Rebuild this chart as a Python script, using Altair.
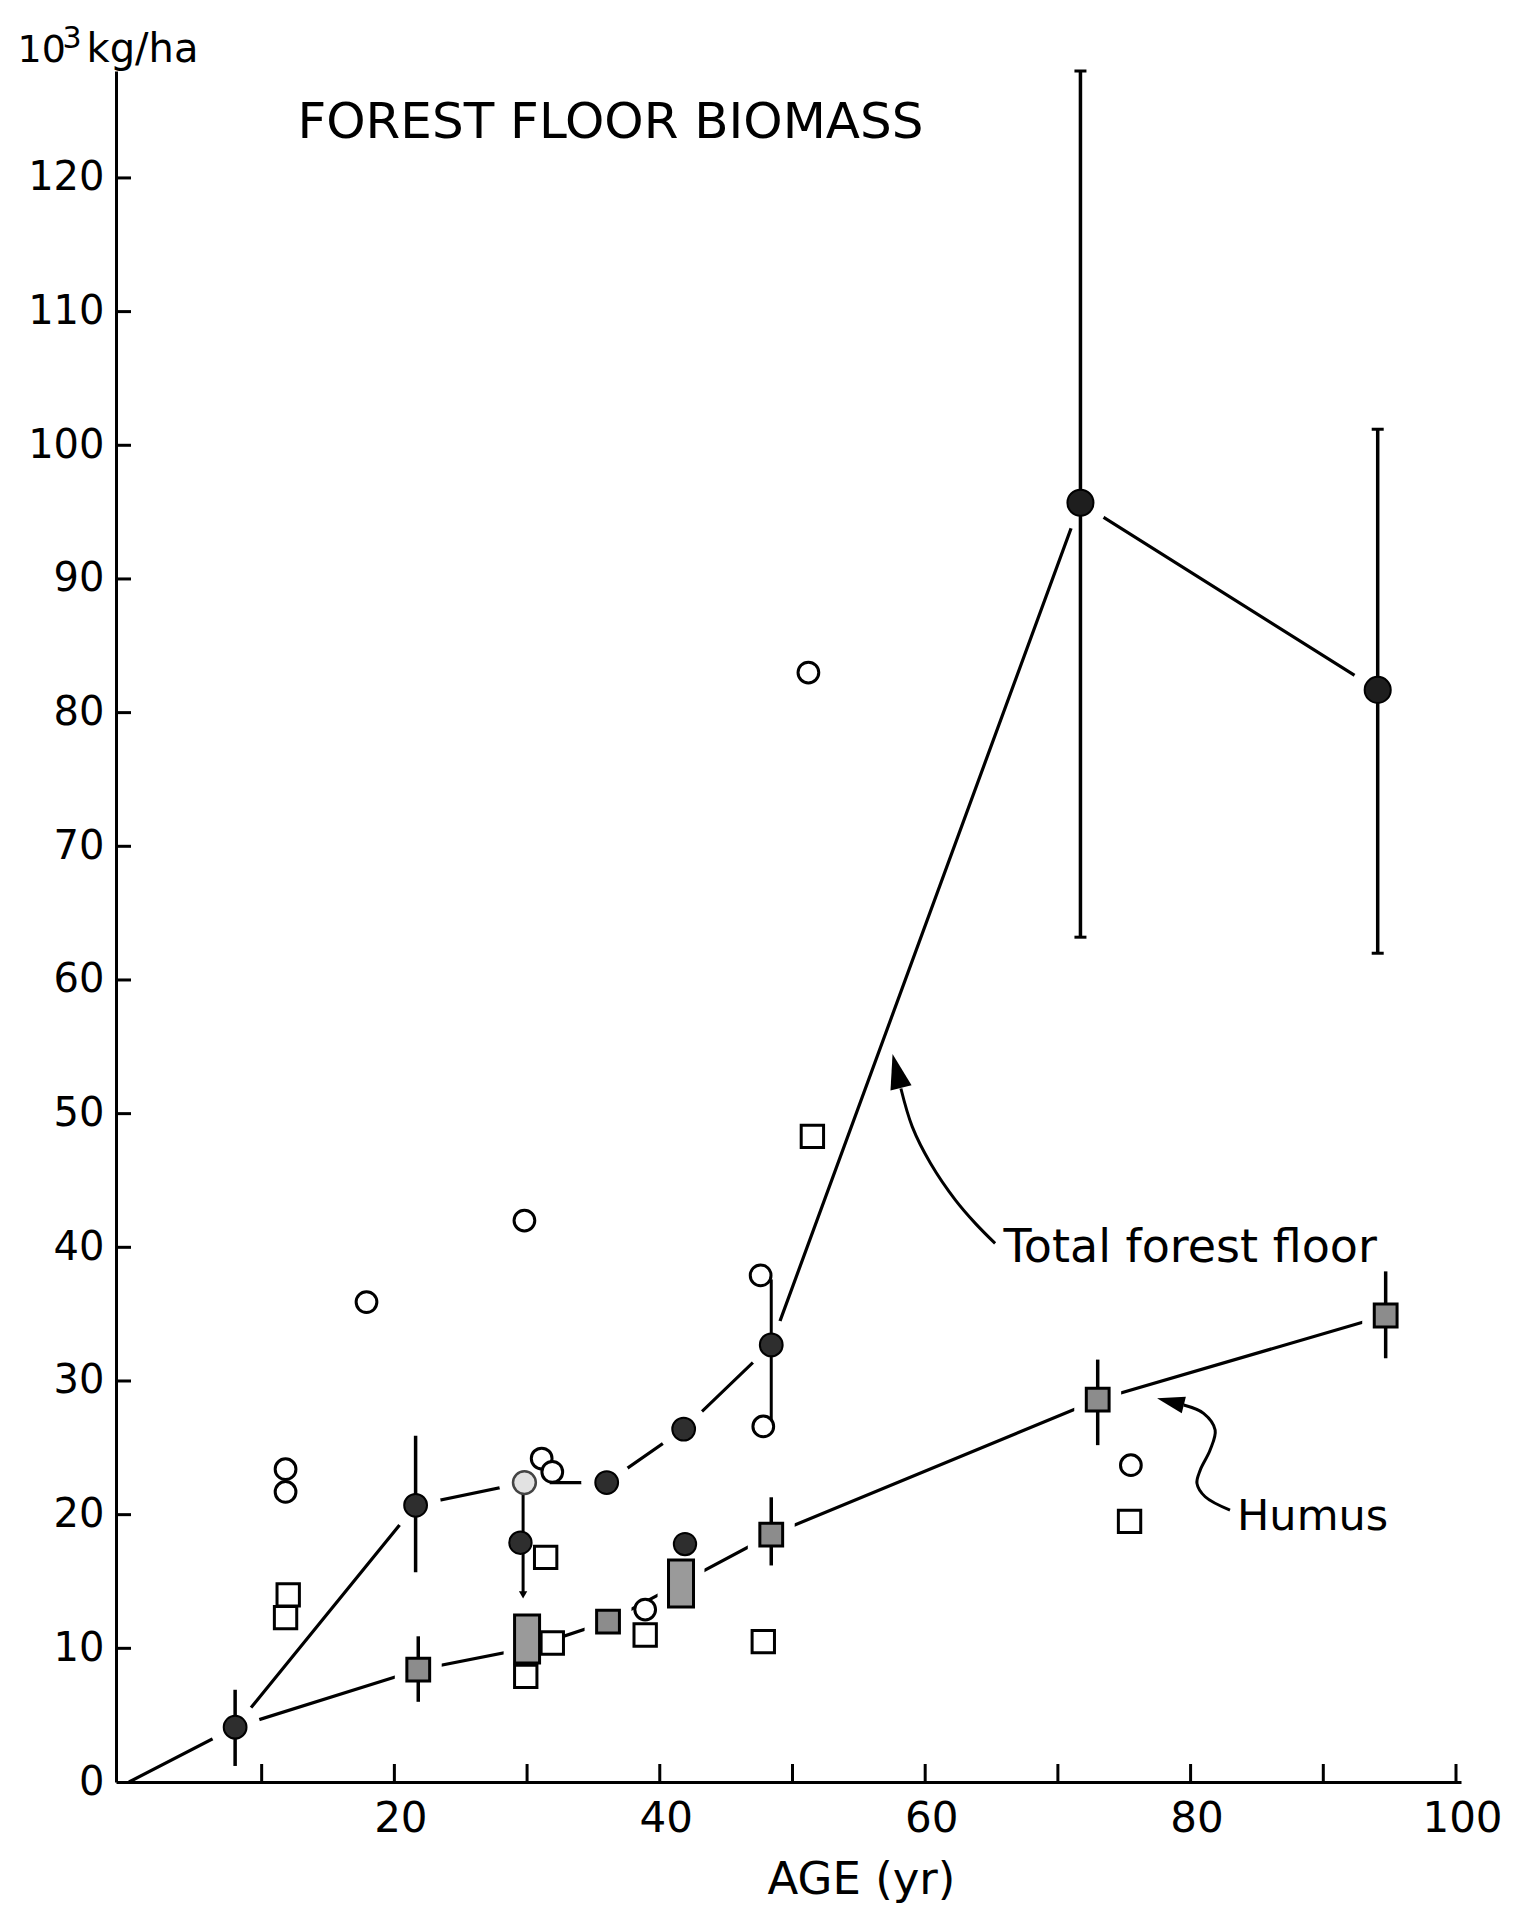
import altair as alt
import pandas as pd

FONT = "DejaVu Sans"

# ---------------- data: age (yr) vs. biomass (10^3 kg/ha) ----------------
# Total forest floor, mean per age class (joined line)
total_line_age = [0.0, 8.0, 21.6, 29.8, 36.0, 41.8, 48.4, 71.7, 94.1]
total_line_mass = [0.0, 4.1, 20.7, 22.4, 22.4, 26.4, 32.7, 95.7, 81.7]

# Humus, mean per age class (joined line)
humus_line_age = [8.0, 21.8, 30.0, 36.1, 41.6, 48.4, 73.0, 94.7]
humus_line_mass = [4.1, 8.4, 10.0, 12.0, 14.9, 18.5, 28.6, 34.9]

# filled circles on the total line
mean_circle_age = [8.0, 21.6, 36.0, 41.8, 48.4]
mean_circle_mass = [4.1, 20.7, 22.4, 26.4, 32.7]
big_circle_age = [71.7, 94.1]
big_circle_mass = [95.7, 81.7]
pale_circle_age = [29.8]
pale_circle_mass = [22.4]

# single stands: total forest floor
dark_circle_age = [29.5, 41.9]
dark_circle_mass = [17.9, 17.8]
open_circle_age = [11.8, 11.8, 17.9, 29.8, 31.1, 31.9, 38.9, 47.6, 47.8, 51.2, 75.5]
open_circle_mass = [23.4, 21.7, 35.9, 42.0, 24.2, 23.2, 12.9, 37.9, 26.6, 83.0, 23.7]

# single stands: humus
open_square_age = [12.0, 11.8, 29.9, 31.4, 31.9, 38.9, 47.8, 51.5, 75.4]
open_square_mass = [14.0, 12.3, 7.9, 16.8, 10.4, 11.0, 10.5, 48.3, 19.5]

# humus means (grey squares) and grouped humus values (grey blocks)
humus_square_age = [21.8, 36.1, 48.4, 73.0, 94.7]
humus_square_mass = [8.4, 12.0, 18.5, 28.6, 34.9]
humus_block_age = [30.0, 41.6]
humus_block_low = [8.9, 13.1]
humus_block_high = [12.5, 16.6]
humus_block_mid = [10.0, 14.9]

# error bars
err_age = [8.0, 21.6, 71.7, 94.1, 21.8, 48.4, 73.0, 94.7]
err_low = [1.2, 15.7, 63.2, 62.0, 6.0, 16.2, 25.2, 31.7]
err_high = [6.9, 25.9, 128.0, 101.2, 10.9, 21.3, 31.6, 38.2]
cap_age = [71.7, 71.7, 94.1, 94.1]
cap_mass = [128.0, 63.2, 101.2, 62.0]

# ranges of single stands
range_age = [29.7, 48.4]
range_low = [14.0, 26.6]
range_high = [22.4, 37.6]

# axis ticks and labels
y_label_values = list(range(0, 130, 10))
y_tick_values = list(range(10, 130, 10))
x_label_values = [20, 40, 60, 80, 100]
x_tick_values = list(range(10, 110, 10))

# annotation leaders
total_leader_age = [58.17, 59.03, 60.41, 62.28, 63.78, 65.27]
total_leader_mass = [51.88, 49.01, 46.27, 43.53, 41.79, 40.29]
humus_leader_age = [79.48, 80.98, 81.85, 81.47, 80.73, 80.48, 81.10, 82.97]
humus_leader_mass = [28.20, 27.58, 26.33, 24.83, 23.34, 22.34, 21.34, 20.34]
head_age = [57.86, 78.48]
head_mass = [53.19, 28.45]
head_angle = [346, 284]
head_size = [1225, 760]

# texts
left_texts = ["FOREST FLOOR BIOMASS", "Total forest floor", "Humus", "10", "3", "kg/ha"]
left_text_age = [12.7, 65.9, 83.5, -8.4, -5.0, -3.2]
left_text_mass = [123.0, 38.9, 18.85, 128.65, 129.7, 128.65]
left_text_size = [50, 46, 43, 38, 30, 40]
x_title = ["AGE (yr)"]
x_title_age = [55.2]
x_title_mass = [-8.4]

# ---------------- chart ----------------
W, H = 1345, 1711
xs = alt.Scale(domain=[-0.6, 100], nice=False, zero=False)
ys = alt.Scale(domain=[0, 128], nice=False, zero=False)
x_axis = alt.Axis(values=x_label_values, title=None, ticks=False, tickSize=0, grid=False,
                  labelFont=FONT, labelFontSize=42, labelPadding=16, labelOffset=6,
                  labelFlush=False, labelOverlap=False, domainWidth=3,
                  domainColor="black", labelColor="black", format="d")
y_axis = alt.Axis(values=y_label_values, title=None, ticks=False, tickSize=0, grid=False,
                  labelFont=FONT, labelFontSize=40, labelPadding=12,
                  labelFlush=False, labelOverlap=False, domainWidth=3,
                  domainColor="black", labelColor="black", format="d")


def X(f):
    return alt.X(f, type="quantitative", scale=xs, axis=x_axis)


def Y(f):
    return alt.Y(f, type="quantitative", scale=ys, axis=y_axis)


def pts(age, mass, **extra):
    d = {"age": age, "mass": mass}
    d.update(extra)
    return pd.DataFrame(d)


def marker(df, shape, size, fill, stroke="black", sw=3.0):
    return alt.Chart(df).mark_point(shape=shape, size=size, filled=True, fill=fill,
                                    stroke=stroke, strokeWidth=sw, opacity=1,
                                    fillOpacity=1).encode(X("age"), Y("mass"))


layers = []

# mean lines
layers.append(alt.Chart(pts(total_line_age, total_line_mass, i=list(range(len(total_line_age)))))
              .mark_line(color="black", strokeWidth=3.2)
              .encode(X("age"), Y("mass"), order="i:Q"))
layers.append(alt.Chart(pts(humus_line_age, humus_line_mass, i=list(range(len(humus_line_age)))))
              .mark_line(color="black", strokeWidth=3.2)
              .encode(X("age"), Y("mass"), order="i:Q"))

# white halos break the lines around the mean markers
layers.append(marker(pts(mean_circle_age + pale_circle_age, mean_circle_mass + pale_circle_mass),
                     "circle", 2600, "white", "white", 0))
layers.append(marker(pts(big_circle_age, big_circle_mass), "circle", 3000, "white", "white", 0))
layers.append(marker(pts(humus_square_age + humus_block_age,
                         humus_square_mass + humus_block_mid), "square", 2200, "white", "white", 0))

# ranges and error bars
layers.append(alt.Chart(pts(range_age, range_low, hi=range_high))
              .mark_rule(color="black", strokeWidth=3)
              .encode(X("age"), Y("mass"), y2="hi:Q"))
layers.append(alt.Chart(pts(err_age, err_low, hi=err_high))
              .mark_rule(color="black", strokeWidth=3.5)
              .encode(X("age"), Y("mass"), y2="hi:Q"))
layers.append(alt.Chart(pts(cap_age, cap_mass))
              .mark_tick(orient="horizontal", color="black", thickness=3, size=12, opacity=1)
              .encode(X("age"), Y("mass")))
layers.append(alt.Chart(pts([range_age[0]], [range_low[0]]))
              .mark_point(shape="triangle-down", size=70, filled=True, color="black", opacity=1)
              .encode(X("age"), Y("mass")))

# grouped humus values
layers.append(alt.Chart(pts(humus_block_age, humus_block_low, hi=humus_block_high))
              .mark_bar(size=25, fill="#9a9a9a", stroke="black", strokeWidth=3)
              .encode(X("age"), Y("mass"), y2="hi:Q"))

# single stands
layers.append(marker(pts(open_square_age, open_square_mass), "square", 500, "white"))
layers.append(marker(pts(open_circle_age, open_circle_mass), "circle", 430, "white"))
layers.append(marker(pts(dark_circle_age, dark_circle_mass), "circle", 500, "#2e2e2e", sw=2))

# means
layers.append(marker(pts(humus_square_age, humus_square_mass), "square", 520, "#8c8c8c", sw=3))
layers.append(marker(pts(mean_circle_age, mean_circle_mass), "circle", 520, "#2e2e2e", sw=2))
layers.append(marker(pts(big_circle_age, big_circle_mass), "circle", 680, "#1e1e1e", sw=2))
layers.append(marker(pts(pale_circle_age, pale_circle_mass), "circle", 520, "#e2e2e2", "#444444", 2.5))

# annotation leaders and arrow heads
layers.append(alt.Chart(pts(total_leader_age, total_leader_mass, i=list(range(len(total_leader_age)))))
              .mark_line(color="black", strokeWidth=3, interpolate="catmull-rom")
              .encode(X("age"), Y("mass"), order="i:Q"))
layers.append(alt.Chart(pts(humus_leader_age, humus_leader_mass, i=list(range(len(humus_leader_age)))))
              .mark_line(color="black", strokeWidth=3, interpolate="catmull-rom")
              .encode(X("age"), Y("mass"), order="i:Q"))
layers.append(alt.Chart(pts(head_age, head_mass, ang=head_angle, sz=head_size))
              .mark_point(shape="M0,-1L0.62,1L-0.62,1Z", filled=True, color="black", opacity=1)
              .encode(X("age"), Y("mass"), angle=alt.Angle("ang:Q", scale=None),
                      size=alt.Size("sz:Q", scale=None, legend=None)))

# inward axis ticks
layers.append(alt.Chart(pd.DataFrame({"mass": y_tick_values}))
              .mark_rule(color="black", strokeWidth=3)
              .encode(Y("mass"), x=alt.value(0), x2=alt.value(15)))
layers.append(alt.Chart(pd.DataFrame({"age": x_tick_values}))
              .mark_rule(color="black", strokeWidth=3)
              .encode(X("age"), y=alt.value(H), y2=alt.value(H - 18)))

# texts
layers.append(alt.Chart(pts(left_text_age, left_text_mass, t=left_texts, fs=left_text_size))
              .mark_text(align="left", baseline="alphabetic", font=FONT, color="black")
              .encode(X("age"), Y("mass"), text="t:N",
                      size=alt.Size("fs:Q", scale=None, legend=None)))
layers.append(alt.Chart(pts(x_title_age, x_title_mass, t=x_title))
              .mark_text(align="center", baseline="alphabetic", font=FONT, fontSize=45, color="black")
              .encode(X("age"), Y("mass"), text="t:N"))

chart = (
    alt.layer(*layers)
    .properties(width=W, height=H, autosize=alt.AutoSizeParams(type="none"),
                padding={"left": 116, "top": 71, "right": 56, "bottom": 124},
                background="white")
    .configure_view(stroke=None)
)

chart.save("out.html", embed_options={"renderer": "svg", "actions": False})
